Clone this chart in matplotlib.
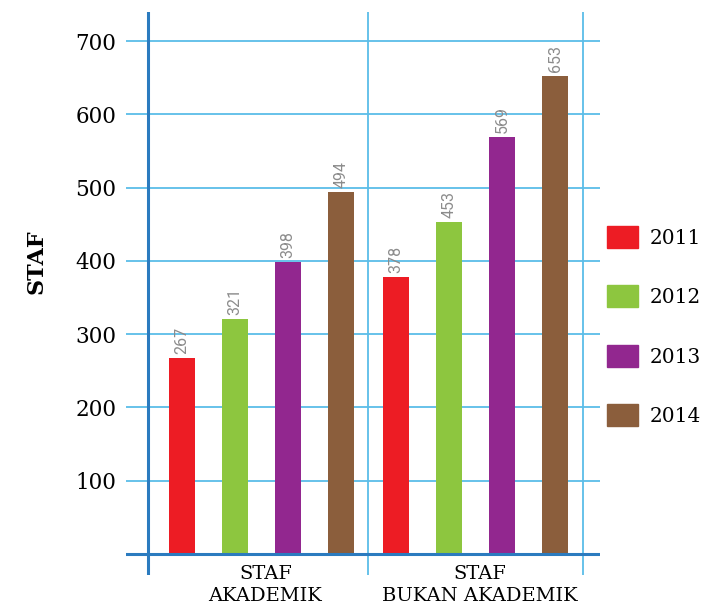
import numpy as np
import matplotlib.pyplot as plt
from matplotlib.patches import Patch

# data
kategori = ['STAF\nAKADEMIK', 'STAF\nBUKAN AKADEMIK']
tahun = ['2011', '2012', '2013', '2014']
staf_akademik = [267, 321, 398, 494]
staf_bukan = [378, 453, 569, 653]
warna = ['#ed1c24', '#8dc63f', '#92278f', '#8b5e3c']
yticks = [100, 200, 300, 400, 500, 600, 700]

biru_muda = '#5bbde8'
biru_tua = '#2b7bbf'
serif = 'DejaVu Serif'

fig = plt.figure(figsize=(7.1, 6.09), dpi=100)
ax = fig.add_axes([0.1775, 0.0558, 0.6676, 0.9245])
ax.set_xlim(-0.63, 1.58)
ax.set_ylim(-29, 740)
for s in ax.spines.values():
    s.set_visible(False)

# grid
for y in yticks:
    ax.axhline(y, color=biru_muda, lw=1.3, zorder=1)
ax.axvline(0.5, color=biru_muda, lw=1.3, zorder=1)
ax.axvline(1.5, color=biru_muda, lw=1.3, zorder=1)
ax.axvline(-0.527, color=biru_tua, lw=2.2, zorder=3)
ax.axhline(0, color=biru_tua, lw=2.2, zorder=3)

# bars
gx = np.arange(len(kategori))
offs = (np.arange(len(tahun)) - 1.5) * 0.247
nilai = np.array([staf_akademik, staf_bukan])
for i, t in enumerate(tahun):
    bars = ax.bar(gx + offs[i], nilai[:, i], width=0.121, color=warna[i],
                  label=t, zorder=2)
    for b, v in zip(bars, nilai[:, i]):
        ax.annotate(str(v), (b.get_x() + b.get_width() / 2, v),
                    xytext=(0, 3), textcoords='offset points',
                    rotation=90, ha='center', va='bottom',
                    fontsize=11.5, color='#8c8c8c', family='Roboto')

# ticks
ax.set_yticks(yticks)
ax.set_yticklabels([str(y) for y in yticks], fontsize=15.5, family=serif)
ax.tick_params(axis='y', length=0, pad=7)
ax.set_xticks([])
for g, k in zip(gx, kategori):
    ax.text(g + 0.02, -16, k, ha='center', va='top', fontsize=14,
            family=serif, linespacing=1.25)

fig.text(0.052, 0.57, 'STAF', rotation=90, ha='center', va='center',
         fontsize=16, fontweight='bold', family=serif)

handles = [Patch(color=c, label=t) for c, t in zip(warna, tahun)]
fig.legend(handles=handles, loc='upper left', bbox_to_anchor=(0.844, 0.642),
           frameon=False, prop={'family': serif, 'size': 14.5},
           handlelength=1.5, handleheight=1.3, labelspacing=1.86,
           handletextpad=0.6, borderaxespad=0)

fig.savefig('out.png', dpi=100)
